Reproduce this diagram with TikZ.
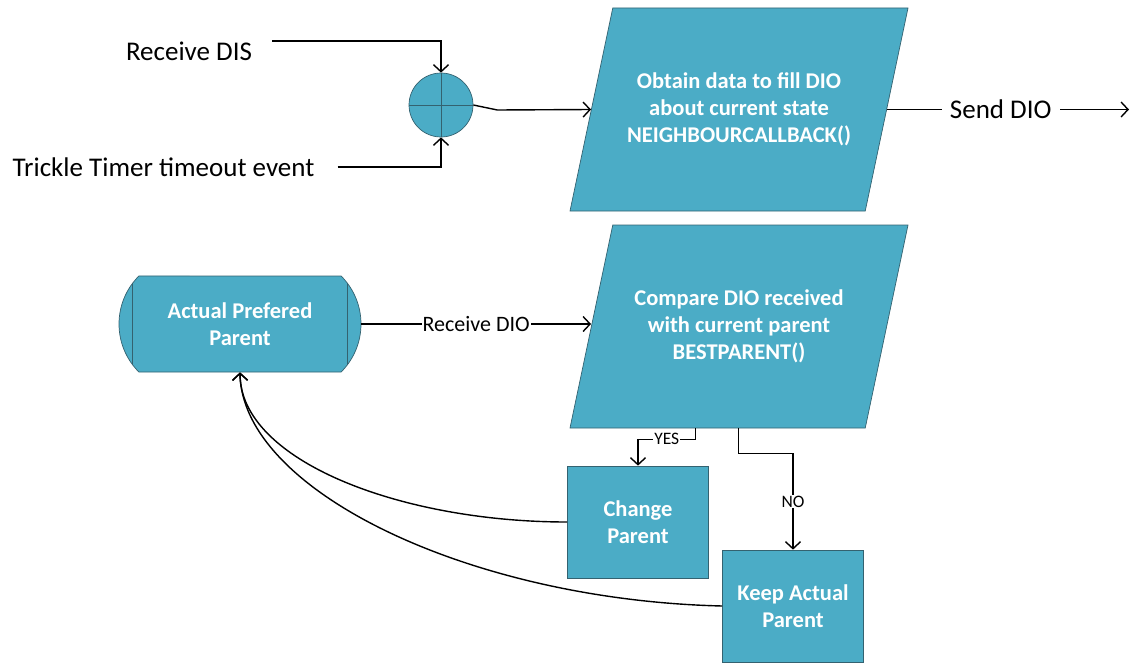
\documentclass[tikz,border=0pt]{standalone}
\usepackage{fontspec}
\setmainfont{Carlito}
\usepackage{tikz}
\usetikzlibrary{arrows.meta,positioning,shapes.geometric,shapes.misc,calc}
\definecolor{flowteal}{RGB}{75,172,198}
\definecolor{flowedge}{RGB}{52,98,112}
\tikzset{
  procbox/.style={draw=flowedge,line width=0.7pt,fill=flowteal,text=white,align=center,
    font=\fontsize{22.5}{27}\selectfont\bfseries,inner sep=0pt},
  iobox/.style={procbox,trapezium,trapezium left angle=78,trapezium right angle=102,
    trapezium stretches body,inner ysep=64pt,minimum width=338pt,minimum height=203pt},
  stepbox/.style={procbox,rectangle,minimum width=141pt,minimum height=112pt},
  storebox/.style={procbox,rounded rectangle,rounded rectangle arc length=90,
    minimum width=242pt,minimum height=96pt,
    path picture={\draw[flowedge,line width=0.7pt]
      ([xshift=20pt]path picture bounding box.north west) -- ([xshift=20pt]path picture bounding box.south west)
      ([xshift=-20pt]path picture bounding box.north east) -- ([xshift=-20pt]path picture bounding box.south east);}},
  junction/.style={circle,draw=flowedge,fill=flowteal,minimum size=64pt,inner sep=0pt,line width=0.7pt,
    path picture={\draw[flowedge,line width=0.7pt]
      (path picture bounding box.north) -- (path picture bounding box.south)
      (path picture bounding box.west) -- (path picture bounding box.east);}},
  eventlabel/.style={font=\fontsize{27}{32}\selectfont,inner sep=0pt},
  flow/.style={-{Straight Barb[length=7pt,width=15pt]},line width=1.4pt},
  flowlabel/.style={font=\fontsize{22}{26}\selectfont,fill=white,inner sep=1pt},
  decisionlabel/.style={font=\fontsize{17.5}{21}\selectfont,fill=white,inner sep=1pt}
}

\begin{document}
\begin{tikzpicture}[x=1pt,y=-1pt]
  \useasboundingbox (0,0) rectangle (1131,666);
  \node[eventlabel] (dis) at (189,51) {Receive DIS};
  \node[eventlabel] (trickle) at (163.5,167) {Trickle Timer timeout event};
  \coordinate (disin) at (272,41);
  \coordinate (sendout) at (1129,109.5);
  \node[junction] (sum) at (441,105) {};
  \node[iobox] (obtain) at (739,109.5) {Obtain data to fill DIO\\about current state\\NEIGHBOURCALLBACK()};
  \node[iobox] (cmp) at (739,326.5) {Compare DIO received\\with current parent\\BESTPARENT()};
  \node[storebox] (app) at (240,324) {Actual Prefered\\Parent};
  \node[stepbox] (chg) at (638,522) {Change\\Parent};
  \node[stepbox] (keep) at (793,606) {Keep Actual\\Parent};
  \draw[flow] (disin) -| (sum.north);
  \draw[flow] ([xshift=23pt]trickle.east) -| (sum.south);
  \draw[flow] (sum.east) -- ++(24,5) -- (obtain.left side);
  \draw[flow] (obtain.right side) -- node[eventlabel,fill=white,inner xsep=8pt,pos=0.47]{Send DIO} (sendout);
  \draw[flow] (app.east) -- node[flowlabel]{Receive DIO} (app.east -| cmp.left side);
  \draw[flow] ([xshift=-22pt]cmp.bottom side) -- ++(0,11) -| node[decisionlabel,pos=0.25]{YES} (chg.north);
  \draw[flow] ([xshift=21pt]cmp.bottom side) -- ++(0,25) -| node[decisionlabel,pos=0.75]{NO} (keep.north);
  \draw[flow] (chg.west) .. controls +(-167,0) and +(0,88) .. (app.south);
  \draw[flow] (keep.west) .. controls +(-253,-6) and +(2,118) .. (app.south);
\end{tikzpicture}
\end{document}
